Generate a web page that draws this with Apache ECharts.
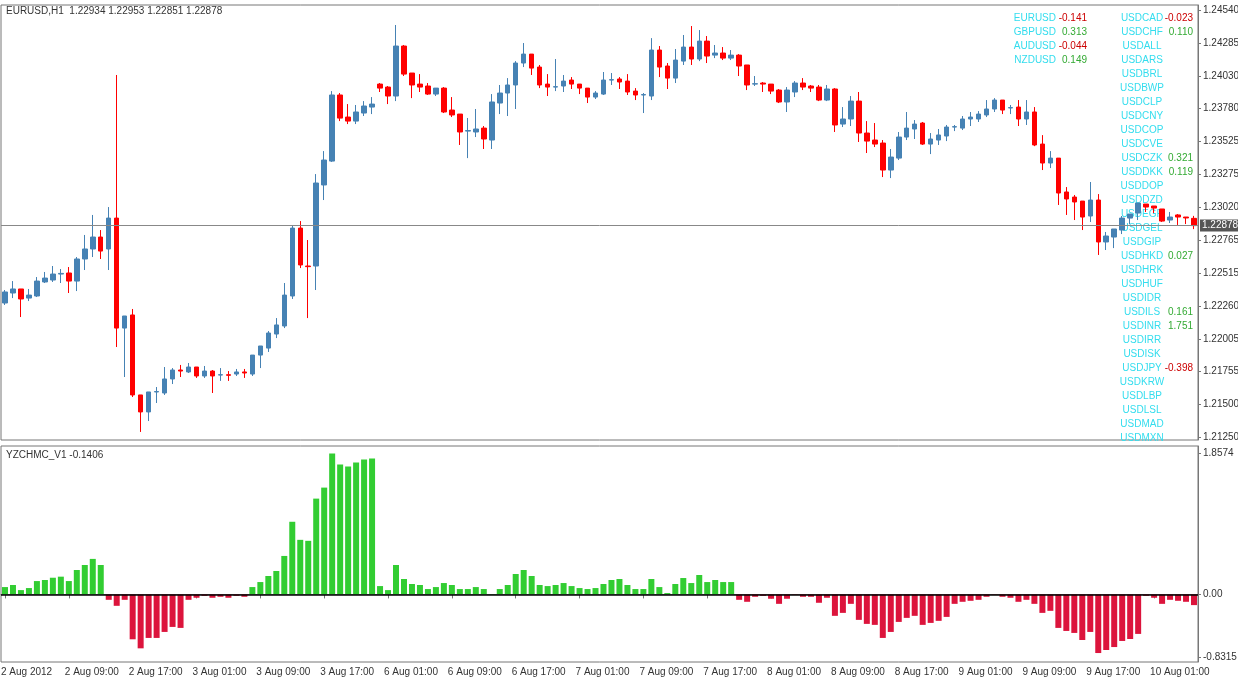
<!DOCTYPE html>
<html>
<head>
<meta charset="utf-8">
<script src="https://cdn.jsdelivr.net/npm/echarts@6/dist/echarts.min.js"></script>
<style>
html,body{margin:0;padding:0;background:#fff;}
#main{width:1238px;height:682px;}
</style>
</head>
<body>
<div id="main"></div>
<script>
// price data in points (1e-5), EURUSD H1
var openPts = [122282,122359,122390,122320,122336,122444,122459,122505,122513,122451,
  122621,122698,122790,122698,122936,122089,122190,121574,121443,121597,
  121589,121697,121766,121751,121789,121720,121758,121727,121730,121735,
  121751,121735,121881,121935,122043,122105,122336,122859,122567,122567,
  123191,123375,123884,123714,123683,123745,123791,123968,123945,123876,
  124261,124053,123968,123953,123891,123937,123768,123737,123606,123599,
  123629,123537,123822,123899,123961,124130,124199,124099,123968,123945,
  123953,123999,123968,123937,123868,123891,123999,124007,123991,123914,
  123884,123876,124230,124107,124014,124145,124253,124161,124299,124191,
  124207,124168,124191,124115,123968,123976,123968,123922,123830,123907,
  123976,123953,123945,123845,123930,123660,123699,123837,123591,123537,
  123514,123306,123398,123560,123622,123668,123506,123537,123568,123637,
  123629,123699,123699,123730,123776,123845,123784,123791,123699,123753,
  123506,123360,123398,123137,123098,123067,122952,123075,122752,122790,
  122844,122936,122975,123044,123029,123006,122921,122960,122944,122934];
var closePts = [122367,122390,122313,122343,122451,122474,122505,122510,122451,122621,
  122698,122790,122682,122936,122089,122182,121574,121443,121597,121600,
  121697,121766,121758,121789,121720,121758,121720,121730,121725,121751,
  121743,121881,121951,122051,122113,122343,122859,122575,122562,123206,
  123383,123884,123706,123683,123753,123799,123814,123937,123876,124261,
  124045,123961,123945,123891,123937,123753,123730,123599,123610,123622,
  123545,123830,123899,123961,124130,124199,124091,123961,123945,123948,
  123991,123968,123937,123868,123899,123999,124002,123984,123907,123884,
  123887,124230,124099,124014,124153,124253,124161,124299,124184,124207,
  124168,124191,124107,123961,123971,123968,123914,123830,123922,123976,
  123945,123937,123845,123930,123653,123699,123837,123591,123529,123506,
  123306,123406,123560,123629,123660,123506,123545,123576,123637,123640,
  123699,123714,123737,123776,123845,123768,123787,123699,123753,123499,
  123360,123398,123129,123083,123060,122944,123075,122752,122798,122852,
  122936,122967,123052,123021,123013,122913,122944,122944,122937,122878];
var lowPts = [122267,122320,122174,122297,122328,122436,122444,122436,122359,122374,
  122536,122636,122621,122536,121943,121712,121558,121289,121373,121512,
  121574,121658,121712,121743,121705,121705,121589,121682,121682,121720,
  121705,121720,121781,121905,122012,122089,122313,122551,122166,122382,
  123075,123368,123683,123660,123660,123722,123737,123907,123814,123837,
  124030,123860,123907,123884,123876,123745,123714,123499,123398,123560,
  123468,123468,123737,123722,123776,124099,124038,123937,123876,123914,
  123907,123930,123891,123822,123853,123884,123961,123930,123884,123845,
  123745,123845,124022,123930,123976,124115,124115,124145,124130,124168,
  124153,124153,124030,123922,123953,123907,123891,123822,123753,123868,
  123922,123907,123837,123837,123599,123637,123645,123522,123437,123483,
  123252,123244,123383,123537,123545,123499,123429,123499,123529,123606,
  123614,123645,123676,123714,123753,123737,123737,123645,123653,123490,
  123306,123321,123037,122960,122921,122844,122906,122652,122690,122705,
  122813,122890,122921,122983,122975,122906,122898,122883,122890,122851];
var highPts = [122382,122451,122390,122390,122482,122521,122567,122544,122559,122636,
  122806,122960,122844,123021,124038,122182,122236,121574,121597,121635,
  121789,121781,121805,121820,121789,121797,121766,121781,121758,121774,
  121774,121881,121951,122066,122166,122436,122875,122913,122767,123275,
  123452,123914,123899,123814,123807,123837,123868,123976,123953,124423,
  124269,124053,124045,123976,123937,123945,123868,123737,123707,123776,
  123645,123891,123961,124014,124145,124284,124199,124115,124045,124161,
  124038,124022,123968,123937,123914,124061,124053,124022,124045,123937,
  123899,124322,124261,124130,124238,124346,124415,124384,124338,124269,
  124253,124230,124199,124115,124030,123984,123968,123930,123945,123991,
  124014,123961,123961,123961,123937,123791,123876,123907,123683,123668,
  123537,123468,123599,123753,123691,123676,123591,123622,123653,123653,
  123722,123753,123760,123845,123860,123845,123807,123845,123845,123791,
  123575,123452,123398,123175,123114,123067,123214,123121,122829,122852,
  122952,122967,123052,123044,123029,123006,122983,122967,122944,122953];

// YZCHMC_V1 indicator
var indicator = [0.097,0.124,0.057,0.084,0.176,0.19,0.22,0.234,0.176,0.322,
  0.388,0.468,0.388,-0.071,-0.15,-0.071,-0.591,-0.71,-0.573,-0.573,
  -0.494,-0.428,-0.441,-0.071,-0.044,-0.018,-0.044,-0.031,-0.044,-0.018,
  -0.031,0.097,0.163,0.243,0.309,0.507,0.957,0.719,0.706,1.262,
  1.407,1.857,1.711,1.685,1.738,1.778,1.791,0.11,0.057,0.388,
  0.203,0.137,0.124,0.071,0.097,0.15,0.124,0.071,0.071,0.097,
  0.071,0.004,0.071,0.124,0.269,0.322,0.243,0.124,0.11,0.124,
  0.15,0.11,0.084,0.071,0.084,0.137,0.19,0.203,0.124,0.071,
  0.071,0.203,0.097,0.018,0.137,0.216,0.15,0.256,0.163,0.19,
  0.163,0.163,-0.071,-0.097,-0.031,-0.018,-0.057,-0.124,-0.057,-0.005,
  -0.031,-0.031,-0.11,-0.044,-0.282,-0.243,-0.124,-0.335,-0.388,-0.401,
  -0.573,-0.494,-0.362,-0.309,-0.282,-0.401,-0.375,-0.348,-0.296,-0.124,
  -0.097,-0.084,-0.071,-0.031,-0.004,-0.031,-0.044,-0.097,-0.071,-0.124,
  -0.243,-0.216,-0.441,-0.481,-0.507,-0.6,-0.494,-0.772,-0.732,-0.693,
  -0.613,-0.587,-0.52,-0.018,-0.044,-0.124,-0.071,-0.084,-0.097,-0.1406];

var timeLabels = ['2 Aug 2012','2 Aug 09:00','2 Aug 17:00','3 Aug 01:00','3 Aug 09:00','3 Aug 17:00',
  '6 Aug 01:00','6 Aug 09:00','6 Aug 17:00','7 Aug 01:00','7 Aug 09:00','7 Aug 17:00',
  '8 Aug 01:00','8 Aug 09:00','8 Aug 17:00','9 Aug 01:00','9 Aug 09:00','9 Aug 17:00','10 Aug 01:00'];
var priceTicks = [1.24540,1.24285,1.24030,1.23780,1.23525,1.23275,1.23020,1.22765,1.22515,1.22260,1.22005,1.21755,1.21500,1.21250];
var indTicks = [1.8574, 0, -0.8315];

var leftPairs = ['EURUSD','GBPUSD','AUDUSD','NZDUSD'];
var leftVals = ['-0.141','0.313','-0.044','0.149'];
var rightPairs = ['USDCAD','USDCHF','USDALL','USDARS','USDBRL','USDBWP','USDCLP','USDCNY','USDCOP','USDCVE',
  'USDCZK','USDDKK','USDDOP','USDDZD','USDEGP','USDGEL','USDGIP','USDHKD','USDHRK','USDHUF',
  'USDIDR','USDILS','USDINR','USDIRR','USDISK','USDJPY','USDKRW','USDLBP','USDLSL','USDMAD','USDMXN'];
var rightVals = ['-0.023','0.110','','','','','','','','',
  '0.321','0.119','','','','','','0.027','','',
  '','0.161','1.751','','','-0.398','','','','',''];

var cats = openPts.map(function(v, i){ return i; });
var ohlc = openPts.map(function(v, i){
  return [openPts[i]/1e5, closePts[i]/1e5, lowPts[i]/1e5, highPts[i]/1e5];
});

var myChart = echarts.init(document.getElementById('main'));
var fontF = 'Liberation Sans';

var graphics = [
  {type:'text', left:6, top:6, style:{text:'EURUSD,H1  1.22934 1.22953 1.22851 1.22878', fill:'#333', font:'10px ' + fontF}},
  {type:'text', left:6, top:450, style:{text:'YZCHMC_V1 -0.1406', fill:'#333', font:'10px ' + fontF}}
];
function valColor(s){ return s.charAt(0) === '-' ? '#cc0000' : '#33aa33'; }
leftPairs.forEach(function(n, i){
  graphics.push({type:'text', x:1056, y:13 + i*14, style:{text:n, fill:'#33ddee', font:'10px ' + fontF, align:'right'}});
  graphics.push({type:'text', x:1087, y:13 + i*14, style:{text:leftVals[i], fill:valColor(leftVals[i]), font:'10px ' + fontF, align:'right'}});
});
rightPairs.forEach(function(n, i){
  graphics.push({type:'text', x:1142, y:13 + i*14, style:{text:n, fill:'#33ddee', font:'10px ' + fontF, align:'center'}});
  if (rightVals[i]) graphics.push({type:'text', x:1193, y:13 + i*14, style:{text:rightVals[i], fill:valColor(rightVals[i]), font:'10px ' + fontF, align:'right'}});
});

var option = {
  animation: false,
  backgroundColor: '#fff',
  textStyle: {fontFamily: fontF},
  graphic: graphics,
  grid: [
    {left: 1, right: 40, top: 5, height: 435, show: true, borderColor: '#777', borderWidth: 1, outerBoundsMode: 'none', containLabel: false},
    {left: 1, right: 40, top: 446, height: 216, show: true, borderColor: '#777', borderWidth: 1, outerBoundsMode: 'none', containLabel: false}
  ],
  xAxis: [
    {type:'category', gridIndex:0, data:cats, boundaryGap:true, axisLine:{show:false}, axisTick:{show:false}, axisLabel:{show:false}, splitLine:{show:false}},
    {type:'category', gridIndex:1, data:cats, boundaryGap:true,
      axisLine:{show:true, lineStyle:{color:'#777'}},
      axisTick:{show:true, length:4, lineStyle:{color:'#777'}, alignWithLabel:true, interval:function(i){ return i % 8 === 0; }},
      axisLabel:{interval:function(i){ return i % 8 === 0; }, formatter:function(v){ return timeLabels[v/8] || ''; },
        color:'#333', fontSize:10, fontFamily:fontF, align:'left', margin:5, padding:[0,0,0,-4]},
      splitLine:{show:false}}
  ],
  yAxis: [
    {type:'value', gridIndex:0, position:'right', min:1.21227, max:1.24577, scale:true,
      axisLine:{show:true, lineStyle:{color:'#777'}},
      axisTick:{show:true, length:3, customValues:priceTicks, lineStyle:{color:'#777'}},
      axisLabel:{customValues:priceTicks, color:'#333', fontSize:10, fontFamily:fontF, margin:5, formatter:function(v){ return v.toFixed(5); }},
      splitLine:{show:false}},
    {type:'value', gridIndex:1, position:'right', min:-0.89, max:1.955,
      axisLine:{show:true, lineStyle:{color:'#777'}},
      axisTick:{show:true, length:3, customValues:indTicks, lineStyle:{color:'#777'}},
      axisLabel:{customValues:indTicks, color:'#333', fontSize:10, fontFamily:fontF, margin:5,
        formatter:function(v){ return v === 0 ? '0.00' : v.toFixed(4); }},
      splitLine:{show:false}}
  ],
  series: [
    {type:'candlestick', xAxisIndex:0, yAxisIndex:0, data:ohlc, barWidth:5,
      itemStyle:{color:'#4682B4', color0:'#FF0000', borderColor:'#4682B4', borderColor0:'#FF0000', borderWidth:1},
      markLine:{symbol:'none', silent:true, animation:false, precision:5,
        lineStyle:{color:'#888', type:'solid', width:1},
        label:{position:'end', formatter:'1.22878', color:'#fff', backgroundColor:'#555', padding:[1,2], fontSize:10, fontFamily:fontF, distance:2},
        data:[{yAxis:1.22878}]}},
    {type:'bar', xAxisIndex:1, yAxisIndex:1, data:indicator, barWidth:6,
      itemStyle:{color:function(p){ return p.value >= 0 ? '#32CD32' : '#DC143C'; }},
      markLine:{symbol:'none', silent:true, animation:false,
        lineStyle:{color:'#000', type:'solid', width:1.5},
        label:{show:false}, data:[{yAxis:0}]}}
  ]
};
myChart.setOption(option);
</script>
</body>
</html>
